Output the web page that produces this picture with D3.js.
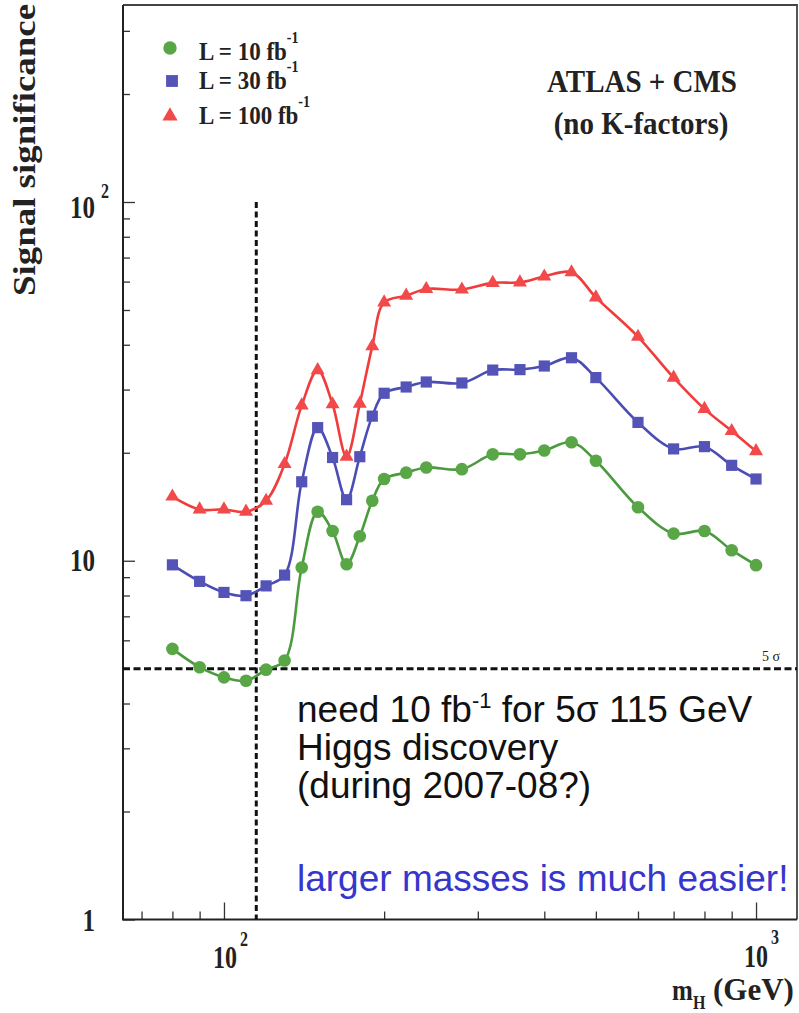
<!DOCTYPE html>
<html><head><meta charset="utf-8">
<script src="https://cdn.jsdelivr.net/npm/d3@7"></script>
<style>body{margin:0;background:#fff}svg{display:block}</style>
</head><body><svg id="c" width="799" height="1013"></svg>
<script>
// ---- data ----
const masses = [80,90,100,110,120,130,140,150,160,170,180,190,200,220,240,280,320,360,400,450,500,600,700,800,900,1000];
const sig10  = [5.68,5.05,4.73,4.63,4.97,5.27,9.58,13.7,12.1,9.78,11.7,14.7,16.9,17.6,18.2,18.0,19.8,19.8,20.3,21.4,19.0,14.1,11.9,12.1,10.7,9.72];
const sig30  = [9.74,8.76,8.16,7.99,8.51,9.12,16.6,23.5,19.4,14.8,19.5,25.3,29.3,30.5,31.5,31.3,34.0,34.1,34.9,36.8,32.4,24.3,20.5,20.8,18.45,16.9];
const sig100 = [15.1,13.9,13.9,13.7,14.7,18.6,27.1,34.0,27.3,19.5,27.4,39.6,52.5,54.8,57.2,57.0,59.5,59.7,62.0,63.7,54.2,42.1,32.4,26.5,23.0,20.2];
const seriesNames = ["L = 10 fb","L = 30 fb","L = 100 fb"];
const xMajorTicks = [100,1000];
const xMinorTicks = [70,80,90,200,300,400,500,600,700,800,900];
const yMajorTicks = [1,10,100];
const yMinorTicks = [2,3,4,5,6,7,8,9,20,30,40,50,60,70,80,90,200,300];
const higgsMass = 115, fiveSigma = 5;

// ---- layout ----
const svg = d3.select("#c");
const X0=123, X1=797, Y0=5, Y1=919.5;
const x = d3.scaleLog().domain([64.6,1194]).range([X0,X1]);
const y = d3.scaleLog().domain([1,100]).range([919.5,202]);
const serif = "'Liberation Serif','Times New Roman',serif";
const sans = "'Liberation Sans',Arial,sans-serif";

// axes ticks (inward)
function tickStyle(g){ g.select(".domain").remove(); g.selectAll("line").attr("stroke","#333").attr("stroke-width",1.3); }
svg.append("g").attr("transform",`translate(0,${Y1})`)
  .call(d3.axisBottom(x).tickValues(xMajorTicks).tickSize(-17).tickFormat("")).call(tickStyle);
svg.append("g").attr("transform",`translate(0,${Y1})`)
  .call(d3.axisBottom(x).tickValues(xMinorTicks).tickSize(-8).tickFormat("")).call(tickStyle);
svg.append("g").attr("transform",`translate(${X0},0)`)
  .call(d3.axisLeft(y).tickValues(yMajorTicks).tickSize(-12).tickFormat("")).call(tickStyle);
svg.append("g").attr("transform",`translate(${X0},0)`)
  .call(d3.axisLeft(y).tickValues(yMinorTicks).tickSize(-7).tickFormat("")).call(tickStyle);

// frame
svg.append("path").attr("d",`M${X0},${Y0}H${X1}V${Y1}`).attr("fill","none").attr("stroke","#444").attr("stroke-width",1.8);
svg.append("path").attr("d",`M${X0},${Y0}V${Y1}H${X1}`).attr("fill","none").attr("stroke","#222").attr("stroke-width",2);

// dashed lines
svg.append("line").attr("x1",x(higgsMass)).attr("x2",x(higgsMass)).attr("y1",y(100)).attr("y2",Y1)
  .attr("stroke","#111").attr("stroke-width",3).attr("stroke-dasharray","6,3.5");
svg.append("line").attr("x1",X0).attr("x2",X1).attr("y1",y(fiveSigma)).attr("y2",y(fiveSigma))
  .attr("stroke","#111").attr("stroke-width",3).attr("stroke-dasharray","7,3.5");

// series
const series = [
  {vals:sig10, line:"#4a9a3e", fill:"#58a646", sym:d3.symbolCircle, size:125},
  {vals:sig30, line:"#4b4db5", fill:"#5454b8", sym:d3.symbolSquare, size:125},
  {vals:sig100, line:"#f03c3c", fill:"#f24a4a", sym:d3.symbolTriangle, size:85}
];
const lineGen = d3.line().x(d=>x(d[0])).y(d=>y(d[1])).curve(d3.curveCatmullRom.alpha(0.5));
series.forEach(s=>{
  const pts = masses.map((m,i)=>[m,s.vals[i]]);
  svg.append("path").datum(pts).attr("d",lineGen).attr("fill","none").attr("stroke",s.line).attr("stroke-width",2.6);
  svg.append("g").selectAll("path").data(pts).join("path")
    .attr("transform",d=>`translate(${x(d[0])},${y(d[1])})`)
    .attr("d",d3.symbol().type(s.sym).size(s.size)).attr("fill",s.fill);
});

// legend
const legY=[48,81,116], legBase=[60,89,124];
series.forEach((s,i)=>{
  svg.append("path").attr("transform",`translate(${i==1?172:170},${legY[i]})`)
    .attr("d",d3.symbol().type(s.sym).size(i==2?100:140)).attr("fill",s.fill);
  const t = svg.append("text").attr("transform",`translate(199,${legBase[i]}) scale(1,1.12)`)
    .attr("font-family",serif).attr("font-weight","bold").attr("font-size",23).attr("fill","#222");
  t.append("tspan").text(seriesNames[i]);
  t.append("tspan").attr("dy",-15).attr("font-size",14).text("-1");
});

// title
svg.append("text").attr("transform","translate(642,92) scale(1,1.08)").attr("text-anchor","middle").attr("font-family",serif)
  .attr("font-weight","bold").attr("font-size",29).attr("fill","#222").text("ATLAS + CMS");
svg.append("text").attr("transform","translate(641,134) scale(1,1.08)").attr("text-anchor","middle").attr("font-family",serif)
  .attr("font-weight","bold").attr("font-size",29).attr("fill","#222").text("(no K-factors)");

// y label
svg.append("text").attr("transform","translate(35,150) rotate(-90)").attr("text-anchor","middle")
  .attr("font-family",serif).attr("font-weight","bold").attr("font-size",32).attr("fill","#222")
  .attr("textLength",292).attr("lengthAdjust","spacingAndGlyphs").text("Signal significance");

// tick labels helper
function lab(xx,yy,txt,size,anchor,sy){
  svg.append("text").attr("transform",`translate(${xx},${yy}) scale(1,${sy||1.3})`).attr("text-anchor",anchor||"start")
    .attr("font-family",serif).attr("font-weight","bold").attr("font-size",size).attr("fill","#222").text(txt);
}
// y tick labels
lab(95,y(100)+16,"10",25,"end"); lab(101,y(100)-4,"2",16,"start");
lab(95,y(10)+10,"10",25,"end");
lab(95,y(1)+11,"1",25,"end");
// x tick labels
lab(x(100)+13,968,"10",24,"end"); lab(x(100)+16,946,"2",16,"start");
lab(x(1000)+12,967,"10",24,"end"); lab(x(1000)+15,944,"3",16,"start");
// x axis title
lab(672,1000,"m",25,"start",1.15);
lab(693,1009,"H",16,"start",1.2);
svg.append("text").attr("x",713).attr("y",1000).attr("font-family",serif).attr("font-weight","bold")
  .attr("font-size",31).attr("fill","#222").text("(GeV)");
// 5 sigma label
svg.append("text").attr("x",762).attr("y",y(fiveSigma)-8).attr("font-family",serif).attr("font-size",14).attr("fill","#222").text("5 σ");

// annotations
const ann = svg.append("g").attr("font-family",sans).attr("font-size",37).attr("fill","#111");
const a1 = ann.append("text").attr("x",297).attr("y",722);
a1.append("tspan").text("need 10 fb");
a1.append("tspan").attr("dy",-14).attr("font-size",22).text("-1");
a1.append("tspan").attr("dy",14).text(" for 5σ 115 GeV");
ann.append("text").attr("x",297).attr("y",760).text("Higgs discovery");
ann.append("text").attr("x",297).attr("y",798).text("(during 2007-08?)");
ann.append("text").attr("x",297).attr("y",891).attr("fill","#3636cc").text("larger masses is much easier!");
</script></body></html>
